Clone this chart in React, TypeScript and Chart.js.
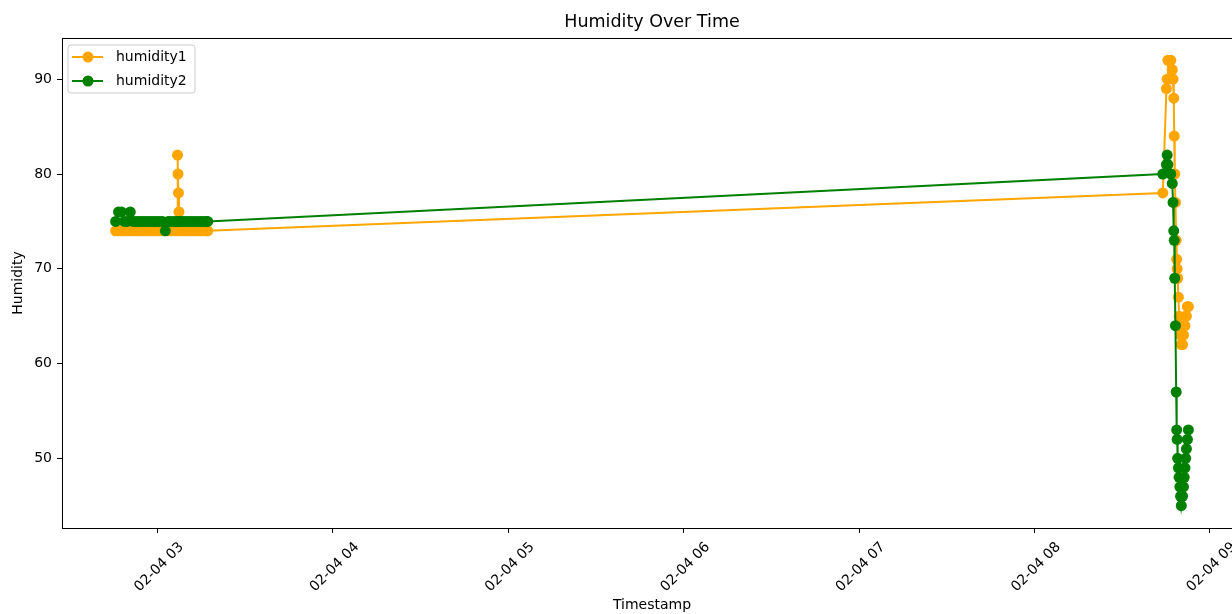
import React, { useEffect, useRef } from "react";
import { Chart, registerables } from "chart.js";

Chart.register(...registerables);

// ---- data ----
const dateLabel = "02-04";
const chartTitle = "Humidity Over Time";
const xAxisTitle = "Timestamp";
const yAxisTitle = "Humidity";
const seriesNames = ["humidity1", "humidity2"];
const seriesColors = ["#FFA500", "#008000"];

const timestamps = [
  "02:45:40", "02:46:40", "02:47:40", "02:48:40", "02:49:40", "02:50:40", "02:51:40", "02:52:40",
  "02:53:40", "02:54:40", "02:55:40", "02:56:40", "02:57:40", "02:58:40", "02:59:40", "03:00:40",
  "03:01:40", "03:02:40", "03:03:40", "03:04:40", "03:05:40", "03:06:40", "03:06:50", "03:07:00",
  "03:07:10", "03:07:20", "03:07:40", "03:08:40", "03:09:40", "03:10:40", "03:11:40", "03:12:40",
  "03:13:40", "03:14:40", "03:15:40", "03:16:40", "03:17:10",
  "08:43:55", "08:45:10", "08:45:25", "08:45:40", "08:46:40", "08:47:10", "08:47:25", "08:47:40",
  "08:47:50", "08:48:00", "08:48:15", "08:48:30", "08:48:40", "08:48:50", "08:49:00", "08:49:15",
  "08:49:30", "08:49:45", "08:50:00", "08:50:15", "08:50:40", "08:51:00", "08:51:15", "08:51:30",
  "08:51:45", "08:52:00", "08:52:20", "08:52:40",
];

const humidity1 = [
  74, 74, 74, 74, 74, 74, 74, 74,
  74, 74, 74, 74, 74, 74, 74, 74,
  74, 74, 74, 74, 74, 74, 82, 80,
  78, 76, 74, 74, 74, 74, 74, 74,
  74, 74, 74, 74, 74,
  78, 89, 90, 92, 92, 91, 90, 88,
  84, 80, 77, 73, 71, 70, 69, 67,
  65, 64, 63, 62, 62, 63, 64, 64,
  65, 65, 66, 66,
];

const humidity2 = [
  75, 76, 76, 75, 75, 76, 75, 75,
  75, 75, 75, 75, 75, 75, 75, 75,
  75, 74, 75, 75, 75, 75, 75, 75,
  75, 75, 75, 75, 75, 75, 75, 75,
  75, 75, 75, 75, 75,
  80, 81, 82, 81, 80, 79, 77, 74,
  73, 69, 64, 57, 53, 52, 50, 49,
  48, 47, 46, 45, 46, 47, 48, 49,
  50, 51, 52, 53,
];

const xTickHours = [3, 4, 5, 6, 7, 8, 9];
const yTickValues = [50, 60, 70, 80, 90];

const FONT = "'DejaVu Sans', 'Liberation Sans', sans-serif";

function toMinutes(s: string): number {
  const [h, m, sec] = s.split(":").map(Number);
  return h * 60 + m + sec / 60;
}

const frameAndLegendPlugin = {
  id: "mplFrameLegend",
  afterDraw(chart: any) {
    const ctx = chart.ctx as CanvasRenderingContext2D;
    const { left, top, right, bottom } = chart.chartArea;
    ctx.save();
    ctx.strokeStyle = "#000";
    ctx.lineWidth = 1;
    ctx.strokeRect(Math.round(left) + 0.5, Math.round(top) + 0.5, Math.round(right - left), Math.round(bottom - top));

    const x0 = left + 6;
    const y0 = top + 7;
    const w = 127;
    const h = 48;
    const r = 3;
    ctx.beginPath();
    ctx.moveTo(x0 + r, y0);
    ctx.lineTo(x0 + w - r, y0);
    ctx.quadraticCurveTo(x0 + w, y0, x0 + w, y0 + r);
    ctx.lineTo(x0 + w, y0 + h - r);
    ctx.quadraticCurveTo(x0 + w, y0 + h, x0 + w - r, y0 + h);
    ctx.lineTo(x0 + r, y0 + h);
    ctx.quadraticCurveTo(x0, y0 + h, x0, y0 + h - r);
    ctx.lineTo(x0, y0 + r);
    ctx.quadraticCurveTo(x0, y0, x0 + r, y0);
    ctx.closePath();
    ctx.fillStyle = "rgba(255,255,255,0.8)";
    ctx.fill();
    ctx.strokeStyle = "#cccccc";
    ctx.stroke();

    seriesNames.forEach((name, i) => {
      const y = y0 + 12 + i * 24;
      ctx.strokeStyle = seriesColors[i];
      ctx.lineWidth = 2;
      ctx.beginPath();
      ctx.moveTo(x0 + 4, y);
      ctx.lineTo(x0 + 35, y);
      ctx.stroke();
      ctx.fillStyle = seriesColors[i];
      ctx.beginPath();
      ctx.arc(x0 + 20, y, 5.5, 0, Math.PI * 2);
      ctx.fill();
      ctx.fillStyle = "#000";
      ctx.font = `14px ${FONT}`;
      ctx.textBaseline = "middle";
      ctx.textAlign = "left";
      ctx.fillText(name, x0 + 48, y);
    });
    ctx.restore();
  },
};

export default function App() {
  const canvasRef = useRef<HTMLCanvasElement | null>(null);

  useEffect(() => {
    document.body.style.margin = "0";
    document.body.style.overflow = "hidden";
    const canvas = canvasRef.current;
    if (!canvas) return;

    const xs = timestamps.map(toMinutes);
    const xFirst = Math.min(...xs);
    const xLast = Math.max(...xs);
    const xSpan = xLast - xFirst;
    const allY = [...humidity1, ...humidity2];
    const yLo = Math.min(...allY);
    const yHi = Math.max(...allY);
    const ySpan = yHi - yLo;

    const series = [humidity1, humidity2];

    const chart = new Chart(canvas, {
      type: "line",
      data: {
        datasets: series.map((vals, i) => ({
          label: seriesNames[i],
          data: xs.map((x, j) => ({ x, y: vals[j] })),
          borderColor: seriesColors[i],
          backgroundColor: seriesColors[i],
          pointBackgroundColor: seriesColors[i],
          pointBorderColor: seriesColors[i],
          pointRadius: 5.5,
          pointHoverRadius: 5.5,
          pointBorderWidth: 0,
          borderWidth: 2,
          tension: 0,
          fill: false,
          order: series.length - i,
        })),
      },
      options: {
        responsive: false,
        animation: false,
        devicePixelRatio: 1,
        events: [],
        layout: { padding: { left: 0, right: 20, top: 0, bottom: 0 } },
        plugins: {
          legend: { display: false },
          tooltip: { enabled: false },
          title: {
            display: true,
            text: chartTitle,
            color: "#000",
            fullSize: false,
            font: { family: FONT, size: 17.5, weight: "normal" },
            padding: { top: 12, bottom: 5 },
          },
        },
        scales: {
          x: {
            type: "linear",
            min: xFirst - 0.05 * xSpan,
            max: xLast + 0.05 * xSpan,
            afterBuildTicks: (scale: any) => {
              scale.ticks = xTickHours.map((h) => ({ value: h * 60 }));
            },
            afterFit: (scale: any) => {
              scale.height = 86;
            },
            grid: { drawOnChartArea: false, drawTicks: true, tickLength: 5, color: "#000" },
            border: { display: false },
            ticks: {
              color: "#000",
              font: { family: FONT, size: 14 },
              minRotation: 45,
              maxRotation: 45,
              autoSkip: false,
              padding: 6,
              labelOffset: 24,
              callback: (v: any) => `${dateLabel} ${String(Math.round(Number(v) / 60)).padStart(2, "0")}`,
            },
            title: {
              display: true,
              text: xAxisTitle,
              color: "#000",
              font: { family: FONT, size: 14 },
              padding: { top: 0, bottom: 0 },
            },
          },
          y: {
            type: "linear",
            min: yLo - 0.05 * ySpan,
            max: yHi + 0.05 * ySpan,
            afterBuildTicks: (scale: any) => {
              scale.ticks = yTickValues.map((v) => ({ value: v }));
            },
            afterFit: (scale: any) => {
              scale.width = 62;
            },
            grid: { drawOnChartArea: false, drawTicks: true, tickLength: 5, color: "#000" },
            border: { display: false },
            ticks: {
              color: "#000",
              font: { family: FONT, size: 14 },
              padding: 5,
            },
            title: {
              display: true,
              text: yAxisTitle,
              color: "#000",
              font: { family: FONT, size: 14 },
              padding: { top: 10, bottom: 0 },
            },
          },
        },
      } as any,
      plugins: [frameAndLegendPlugin],
    });

    return () => chart.destroy();
  }, []);

  return (
    <div style={{ width: 1232, height: 614, overflow: "hidden", position: "relative", background: "#fff" }}>
      <canvas ref={canvasRef} width={1262} height={614} style={{ display: "block" }} />
    </div>
  );
}
